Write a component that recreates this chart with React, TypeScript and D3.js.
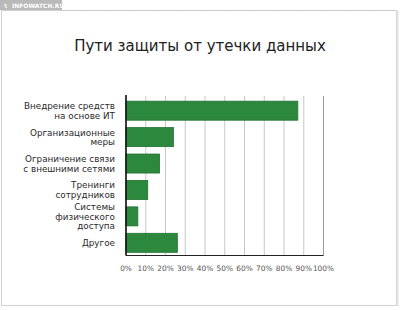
import { useLayoutEffect, useRef } from "react";
import * as d3 from "d3";

const categories: string[][] = [
  ["Внедрение средств", "на основе ИТ"],
  ["Организационные", "меры"],
  ["Ограничение связи", "с внешними сетями"],
  ["Тренинги", "сотрудников"],
  ["Системы", "физического", "доступа"],
  ["Другое"],
];
const values = [87, 24, 17, 11, 6, 26];
const xTicks = [0, 10, 20, 30, 40, 50, 60, 70, 80, 90, 100];

const W = 400;
const H = 310;
const PLOT = { left: 126, right: 323.5, top: 98, bottom: 255.5 };
const LABEL_RIGHT = 115;

export default function App() {
  const svgRef = useRef<SVGSVGElement>(null);

  const x = d3.scaleLinear().domain([0, 100]).range([PLOT.left, PLOT.right]);
  const y = d3
    .scaleBand<number>()
    .domain(d3.range(categories.length))
    .range([PLOT.top, PLOT.bottom])
    .paddingInner(0.28)
    .paddingOuter(0.12);

  const labelFont = "'DejaVu Sans', Verdana, sans-serif";

  // right-align the category labels by measuring them
  useLayoutEffect(() => {
    if (!svgRef.current) return;
    d3.select(svgRef.current)
      .selectAll<SVGTextElement, unknown>("text.cat-label")
      .each(function () {
        const w = this.getComputedTextLength();
        d3.select(this).attr("x", LABEL_RIGHT - w).attr("text-anchor", "start");
      });
  }, []);

  return (
    <div style={{ position: "absolute", left: 0, top: 0 }}>
      <svg ref={svgRef} width={W} height={H} style={{ display: "block", background: "#fff" }}>
        {/* outer frame */}
        <rect x={1.5} y={10.5} width={395} height={295} fill="#fff" stroke="#d0d0d0" />
        <line x1={62} x2={396} y1={10.5} y2={10.5} stroke="#c8c8c8" strokeDasharray="2,1" />
        <line x1={397.5} x2={397.5} y1={11} y2={306} stroke="#e2e2e2" strokeWidth={2} />
        <rect x={0} y={0} width={62} height={10} fill="#b9b9b9" />
        <text x={12} y={7.5} fontSize={6} fill="#fff" fontFamily={labelFont} fontWeight="bold">
          INFOWATCH.RU
        </text>
        <text x={3} y={7.5} fontSize={6} fill="#fff" fontFamily={labelFont}>
          ↯
        </text>

        {/* title */}
        <text
          x={200}
          y={51}
          textAnchor="middle"
          fontSize={15}
          fill="#222"
          fontFamily={labelFont}
        >
          Пути защиты от утечки данных
        </text>

        {/* gridlines */}
        {xTicks.map((t) => (
          <line
            key={t}
            x1={x(t)}
            x2={x(t)}
            y1={PLOT.top - 2}
            y2={PLOT.bottom}
            stroke={t === 100 ? "#9a9a9a" : "#c8c8c8"}
            strokeWidth={1}
          />
        ))}

        {/* bars */}
        {values.map((v, i) => (
          <rect
            key={i}
            x={x(0)}
            y={y(i)!}
            width={x(v) - x(0)}
            height={y.bandwidth()}
            fill="#2c883c"
            stroke="#237132"
            strokeWidth={0.8}
          />
        ))}

        {/* axes */}
        <line x1={x(0)} x2={x(100)} y1={PLOT.bottom} y2={PLOT.bottom} stroke="#222" strokeWidth={1} />
        <line x1={x(0)} x2={x(0)} y1={PLOT.top - 3} y2={PLOT.bottom} stroke="#111" strokeWidth={1.6} />

        {/* category labels */}
        {categories.map((lines, i) => {
          const cy = y(i)! + y.bandwidth() / 2;
          const lh = 9.6;
          const start = cy - ((lines.length - 1) * lh) / 2 + 3.2;
          return lines.map((ln, j) => (
            <text
              key={`${i}-${j}`}
              className="cat-label"
              x={LABEL_RIGHT}
              y={start + j * lh}
              textAnchor="end"
              fontSize={8.8}
              fill="#2a2a2a"
              fontFamily={labelFont}
            >
              {ln}
            </text>
          ));
        })}

        {/* tick labels */}
        {xTicks.map((t) => (
          <text
            key={t}
            x={x(t)}
            y={271}
            textAnchor="middle"
            fontSize={7.4}
            fill="#555"
            fontFamily={labelFont}
          >
            {`${t}%`}
          </text>
        ))}
      </svg>
    </div>
  );
}
